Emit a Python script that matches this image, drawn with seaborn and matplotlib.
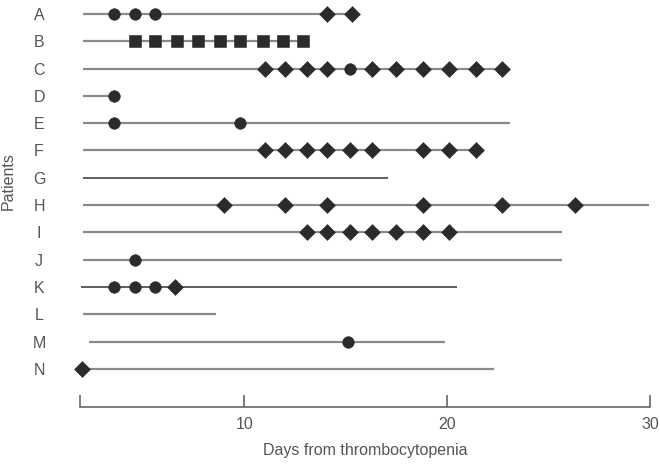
import matplotlib
matplotlib.use("Agg")
import matplotlib.pyplot as plt
import seaborn as sns
import pandas as pd

# Patients and the span of each timeline (days from thrombocytopenia)
patients = ["A", "B", "C", "D", "E", "F", "G", "H", "I", "J", "K", "L", "M", "N"]
start_day = [2.05, 2.05, 2.05, 2.05, 2.05, 2.05, 2.05, 2.05, 2.05, 2.05, 1.94, 2.05, 2.35, 2.03]
end_day = [15.3, 12.9, 22.7, 3.6, 23.1, 21.4, 17.1, 29.95, 25.65, 25.65, 20.5, 8.6, 19.9, 22.3]

# Events per patient, by marker kind
circle_days = {
    "A": [3.6, 4.6, 5.6],
    "C": [15.2],
    "D": [3.6],
    "E": [3.6, 9.8],
    "J": [4.6],
    "K": [3.6, 4.6, 5.6],
    "M": [15.1],
}
diamond_days = {
    "A": [14.1, 15.3],
    "C": [11.0, 12.0, 13.1, 14.1, 16.3, 17.5, 18.8, 20.1, 21.4, 22.7],
    "F": [11.0, 12.0, 13.1, 14.1, 15.2, 16.3, 18.8, 20.1, 21.4],
    "H": [9.0, 12.0, 14.1, 18.8, 22.7, 26.3],
    "I": [13.1, 14.1, 15.2, 16.3, 17.5, 18.8, 20.1],
    "K": [6.6],
    "N": [2.0],
}
square_days = {
    "B": [4.6, 5.6, 6.7, 7.7, 8.8, 9.8, 10.9, 11.9, 12.9],
}

x_ticks = [1.9, 10, 20, 30]
x_tick_labels = ["", "10", "20", "30"]


def events_frame(days_by_patient, kind):
    rows = []
    for p, days in days_by_patient.items():
        for d in days:
            rows.append({"patient": p, "row": patients.index(p), "day": d, "kind": kind})
    return pd.DataFrame(rows)


sns.set_theme(style="white")
plt.rcParams["font.family"] = ["Liberation Sans", "DejaVu Sans"]

text_col = "#555555"
mark_col = "#2b2b2b"
dark_rows = {"G", "K"}

fig = plt.figure(figsize=(6.6, 4.66), dpi=100)
ax = fig.add_axes([80 / 660, 59 / 466, 570 / 660, 407 / 466])

# timelines
for i, p in enumerate(patients):
    if p in dark_rows:
        ax.hlines(i, start_day[i], end_day[i], color="#333333", lw=1.1, zorder=1)
    else:
        ax.hlines(i, start_day[i], end_day[i], color="#8a8a8a", lw=1.6, zorder=1)

# markers
marker_specs = [
    (circle_days, "circle", "o", 70),
    (diamond_days, "diamond", "D", 66),
    (square_days, "square", "s", 64),
]
for days, kind, marker, size in marker_specs:
    df = events_frame(days, kind)
    sns.scatterplot(data=df, x="day", y="row", marker=marker, s=size,
                    color=mark_col, edgecolor=mark_col, linewidth=0.4,
                    legend=False, ax=ax, zorder=3, clip_on=False)

ax.set_xlim(1.9, 30)
ax.set_ylim(14.40, -0.513)

ax.set_xticks(x_ticks)
ax.set_xticklabels(x_tick_labels, fontsize=11.5, color=text_col)
ax.set_yticks(range(len(patients)))
ax.set_yticklabels(patients, fontsize=11.5, color=text_col, ha="center")
ax.tick_params(axis="x", bottom=True, direction="in", length=9, width=1.2,
               color="#666666", pad=7)
ax.tick_params(axis="y", left=False, length=0, pad=29.5)

for side in ["top", "right", "left"]:
    ax.spines[side].set_visible(False)
ax.spines["bottom"].set_color("#666666")
ax.spines["bottom"].set_linewidth(1.2)

ax.set_xlabel("Days from thrombocytopenia", fontsize=11.5, color=text_col, labelpad=8)
ax.set_ylabel("")
fig.text(8 / 660, 1 - 181 / 466, "Patients", rotation=90, fontsize=11.5,
         color=text_col, ha="center", va="center")

fig.savefig("out.png", dpi=100)
